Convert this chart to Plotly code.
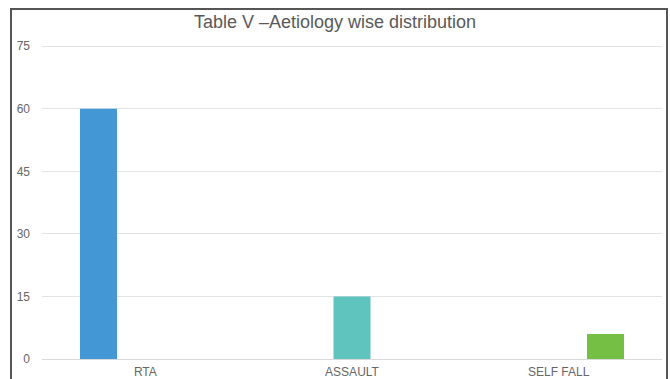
import plotly.graph_objects as go

categories = ["RTA", "ASSAULT", "SELF FALL"]
series_names = ["RTA", "ASSAULT", "SELF FALL"]
series_values = [
    [60, None, None],
    [None, 15, None],
    [None, None, 6],
]
colors = ["#4397d4", "#5ec4bd", "#74bf44"]
y_ticks = [0, 15, 30, 45, 60, 75]

L, R = 42, 8
fig = go.Figure()
for name, vals, col in zip(series_names, series_values, colors):
    fig.add_trace(go.Bar(x=categories, y=vals, name=name, marker=dict(color=col, line=dict(width=0))))

fig.update_layout(
    width=670, height=379,
    margin=dict(l=L, r=R, t=45, b=20),
    paper_bgcolor="white", plot_bgcolor="white",
    barmode="group", bargap=0.32, bargroupgap=0.21,
    showlegend=False,
    font=dict(family="Liberation Sans, Arial, sans-serif", color="#595959", size=12),
    title=dict(text="Table V –Aetiology wise distribution", x=0.5, xanchor="center",
               y=1 - 22/379, yanchor="middle", font=dict(size=18, color="#595959")),
)
fig.update_yaxes(range=[0, 75.3], tickvals=y_ticks, showgrid=True, gridcolor="#e3e3e3", gridwidth=1,
                 zeroline=False, showline=False, ticks="", ticklabelstandoff=11, automargin=False,
                 tickfont=dict(size=12, color="#666666"))
fig.update_xaxes(showline=True, linecolor="#d9d9d9", linewidth=1, ticks="", showgrid=False,
                 automargin=False, ticklabelstandoff=2, tickfont=dict(size=12, color="#666666"))

# outer frame
pw = 670 - L - R
x0 = (11 - L) / pw
x1 = (667 - L) / pw
y1 = (359 - 9) / 314
fig.add_shape(type="rect", xref="paper", yref="paper", x0=x0, x1=x1, y0=-0.2, y1=y1,
              line=dict(color="#555555", width=2), fillcolor="rgba(0,0,0,0)", layer="above")

fig.write_html("out.html")
